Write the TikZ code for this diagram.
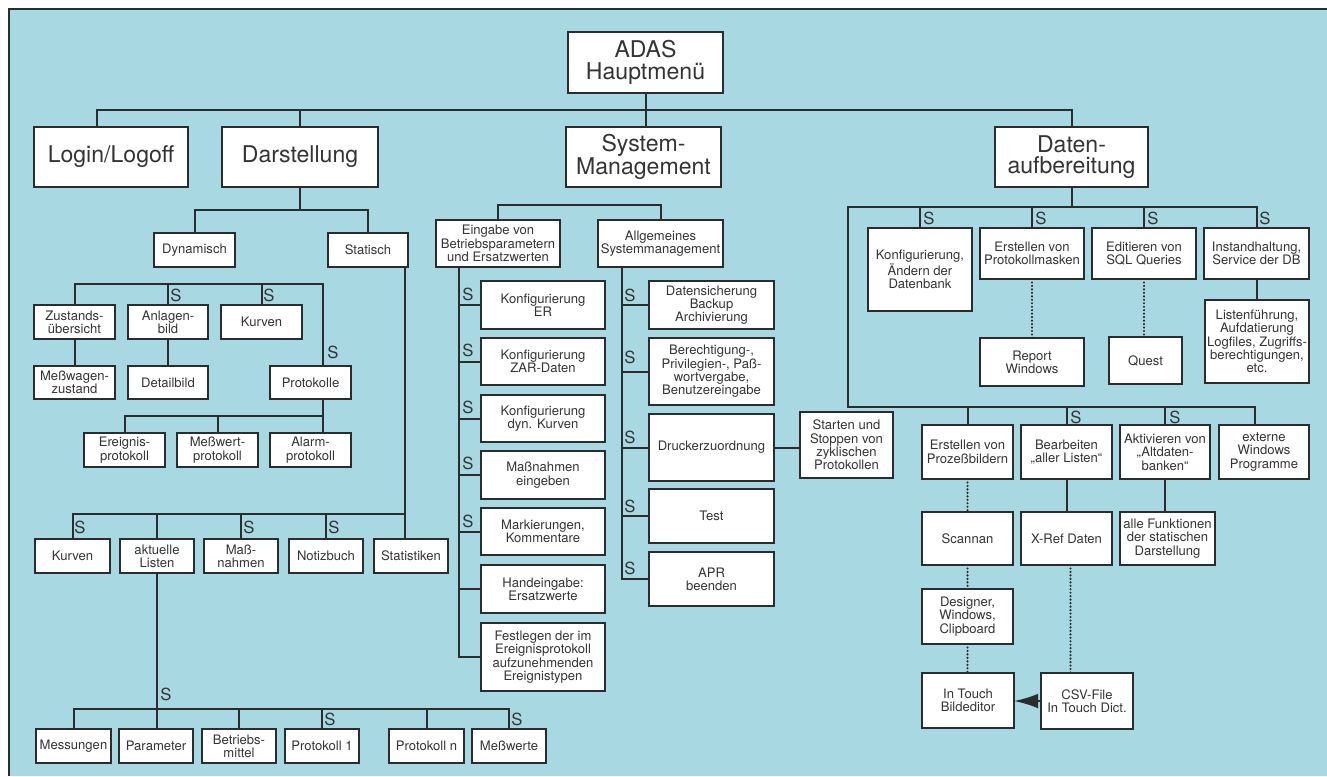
\documentclass[tikz,border=0pt]{standalone}
\usepackage{fontspec}
\setmainfont{TeX Gyre Heros}
\usetikzlibrary{arrows.meta,calc}
\definecolor{panel}{RGB}{168,216,226}
\definecolor{ink}{RGB}{42,44,46}
\definecolor{txt}{RGB}{52,52,54}

\tikzset{
  box/.style={draw=ink, line width=1pt, fill=white, align=center, inner sep=0pt,
    outer sep=0pt, text=txt, font=\fontsize{9.8pt}{10pt}\selectfont},
  bigbox/.style={font=\fontsize{17.3pt}{16pt}\selectfont},
  wire/.style={draw=ink, line width=1.5pt},
  dots/.style={draw=ink, line width=1.8pt, line cap=round, dash pattern=on 0pt off 2.6pt},
  slab/.style={text=txt, inner sep=0pt, font=\fontsize{12.5pt}{12.5pt}\selectfont},
}

% box given by its corners in pixel units: [style]{name}{x1}{y1}{x2}{y2}{text}
\newcommand{\bx}[7][]{\node[box,#1,minimum width={(#5-#3)*0.75pt},minimum height={(#6-#4)*0.75pt}] (#2) at ({(#3+#5)/2},{(#4+#6)/2}) {#7};}

\begin{document}
\begin{tikzpicture}[x=0.75pt,y=-0.75pt]
\useasboundingbox (0,0) rectangle (1327,776);
\fill[white] (0,0) rectangle (1327,776);
\fill[panel] (9,9) rectangle (1327,776);
\draw[ink, line width=1.2pt] (9,776) -- (9,9) -- (1327,9);

% ---- top level
\bx[bigbox]{adas}{568}{32}{723}{93}{ADAS\\Hauptmenü}
\bx[bigbox]{login}{34}{127}{188}{187}{Login/Logoff}
\bx[bigbox]{darst}{222}{127}{378}{187}{Darstellung}
\bx[bigbox]{sysm}{566}{127}{721}{187}{System-\\Management}
\bx[bigbox]{dat}{995}{127}{1148}{187}{Daten-\\aufbereitung}

% ---- Darstellung
\bx{dyn}{154}{233}{235}{267}{Dynamisch}
\bx{stat}{328}{233}{408}{267}{Statisch}
\bx{zust}{34}{305}{115}{339}{Zustands-\\übersicht}
\bx{anl}{128}{305}{208}{339}{Anlagen-\\bild}
\bx{kurv1}{221}{305}{302}{339}{Kurven}
\bx{messw}{34}{366}{115}{399}{Meßwagen-\\zustand}
\bx{detail}{128}{366}{208}{399}{Detailbild}
\bx{prot}{270}{366}{351}{399}{Protokolle}
\bx{ereig}{84}{433}{165}{467}{Ereignis-\\protokoll}
\bx{mwprot}{177}{433}{258}{467}{Meßwert-\\protokoll}
\bx{alarm}{270}{433}{351}{467}{Alarm-\\protokoll}
\bx{kurv2}{35}{539}{110}{573}{Kurven}
\bx{akt}{120}{539}{194}{573}{aktuelle\\Listen}
\bx{massn}{204}{539}{278}{573}{Maß-\\nahmen}
\bx{notiz}{289}{539}{363}{573}{Notizbuch}
\bx{statist}{374}{539}{448}{573}{Statistiken}
\bx{messg}{36}{729}{111}{763}{Messungen}
\bx{param}{119}{729}{193}{763}{Parameter}
\bx{betr}{202}{729}{276}{763}{Betriebs-\\mittel}
\bx{prot1}{285}{729}{359}{763}{Protokoll 1}
\bx{protn}{389}{729}{464}{763}{Protokoll n}
\bx{mwerte}{472}{729}{546}{763}{Meßwerte}

% ---- System-Management
\bx{eing}{436}{220}{560}{267}{Eingabe von\\Betriebsparametern\\und Ersatzwerten}
\bx{allg}{598}{220}{723}{267}{Allgemeines\\Systemmanagement}
\bx{k1}{481}{281}{605}{329}{Konfigurierung\\ER}
\bx{k2}{481}{338}{605}{385}{Konfigurierung\\ZAR-Daten}
\bx{k3}{481}{395}{605}{442}{Konfigurierung\\dyn. Kurven}
\bx{k4}{481}{451}{605}{499}{Maßnahmen\\eingeben}
\bx{k5}{481}{508}{605}{555}{Markierungen,\\Kommentare}
\bx{k6}{481}{565}{605}{613}{Handeingabe:\\Ersatzwerte}
\bx{k7}{481}{623}{605}{691}{Festlegen der im\\Ereignisprotokoll\\aufzunehmenden\\Ereignistypen}
\bx{d1}{649}{281}{774}{329}{Datensicherung\\Backup\\Archivierung}
\bx{d2}{649}{338}{774}{405}{Berechtigung-,\\Privilegien-, Paß-\\wortvergabe,\\Benutzereingabe}
\bx{d3}{649}{414}{774}{481}{Druckerzuordnung}
\bx{d4}{649}{489}{774}{543}{Test}
\bx{d5}{649}{552}{774}{606}{APR\\beenden}
\bx{start}{800}{412}{893}{478}{Starten und\\Stoppen von\\zyklischen\\Protokollen}

% ---- Datenaufbereitung
\bx{e1}{868}{228}{972}{311}{Konfigurierung,\\Ändern der\\Datenbank}
\bx{e2}{980}{228}{1084}{279}{Erstellen von\\Protokollmasken}
\bx{e3}{1092}{228}{1196}{279}{Editieren von\\SQL Queries}
\bx{e4}{1204}{228}{1309}{279}{Instandhaltung,\\Service der DB}
\bx{rep}{980}{338}{1084}{386}{Report\\Windows}
\bx{quest}{1109}{337}{1182}{384}{Quest}
\bx{listf}{1205}{300}{1309}{383}{Listenführung,\\Aufdatierung\\Logfiles, Zugriffs-\\berechtigungen,\\etc.}
\bx{f1}{922}{425}{1013}{479}{Erstellen von\\Prozeßbildern}
\bx{f2}{1021}{425}{1112}{479}{Bearbeiten\\„aller Listen“}
\bx{f3}{1120}{425}{1210}{479}{Aktivieren von\\„Altdaten-\\banken“}
\bx{f4}{1219}{425}{1309}{479}{externe\\Windows\\Programme}
\bx{g1}{922}{512}{1013}{565}{Scannan}
\bx{g2}{1021}{512}{1112}{565}{X-Ref Daten}
\bx{g3}{1120}{512}{1215}{565}{alle Funktionen\\der statischen\\Darstellung}
\bx{h1}{922}{589}{1013}{644}{Designer,\\Windows,\\Clipboard}
\bx{i1}{922}{673}{1014}{728}{In Touch\\Bildeditor}
\bx{csv}{1041}{673}{1133}{729}{CSV-File\\In Touch Dict.}

% ---- bus levels and spines
\coordinate (b0) at (0,110);
\coordinate (b1) at (0,210);
\coordinate (b2) at (0,284);
\coordinate (b3) at (0,416);
\coordinate (b4) at (0,514);
\coordinate (b5) at (0,709);
\coordinate (b6) at (0,205);
\coordinate (b7) at (0,207);
\coordinate (b8) at (0,407);
\coordinate (jl) at (97,0);
\coordinate (jd) at (323,0);
\coordinate (js) at (405,0);
\coordinate (sp1) at (459,0);
\coordinate (sp2) at (622,0);
\coordinate (sp3) at (848,0);
\coordinate (jx) at (1255,0);

% main level
\draw[wire] (jl |- login.north) |- (b0 -| dat.north) -- (dat.north);
\draw[wire] (darst.north) -- (darst.north |- b0);
\draw[wire] (adas.south) -- (adas.south |- sysm.north);

% Darstellung branch
\draw[wire] (darst.south) -- (darst.south |- b1);
\draw[wire] (dyn.north) |- (b1 -| stat.north) -- (stat.north);
\draw[wire] (zust.north) |- (b2 -| jd) -- (jd |- prot.north);
\draw[wire] (anl.north) -- (anl.north |- b2);
\draw[wire] (kurv1.north) -- (kurv1.north |- b2);
\draw[wire] (zust.south) -- (messw.north);
\draw[wire] (anl.south) -- (detail.north);
\draw[wire] (jd |- prot.south) -- (jd |- alarm.north);
\draw[wire] (ereig.north) |- (b3 -| jd);
\draw[wire] (mwprot.north) -- (mwprot.north |- b3);
\draw[wire] (js |- stat.south) -- (js |- statist.north);
\draw[wire] (js |- b4) -| (kurv2.north);
\draw[wire] (akt.north) -- (akt.north |- b4);
\draw[wire] (massn.north) -- (massn.north |- b4);
\draw[wire] (notiz.north) -- (notiz.north |- b4);
\draw[wire] (akt.south) -- (akt.south |- param.north);
\draw[wire] (messg.north) |- (b5 -| mwerte.north) -- (mwerte.north);
\draw[wire] (betr.north) -- (betr.north |- b5);
\draw[wire] (prot1.north) -- (prot1.north |- b5);
\draw[wire] (protn.north) -- (protn.north |- b5);

% System-Management branch
\draw[wire] (eing.north) |- (b6 -| allg.north) -- (allg.north);
\draw[wire] (sp1 |- eing.south) |- (k7.west);
\foreach \k in {k1,k2,k3,k4,k5,k6} \draw[wire] (\k.west) -- (\k.west -| sp1);
\draw[wire] (sp2 |- allg.south) |- (d5.west);
\foreach \k in {d1,d2,d3,d4} \draw[wire] (\k.west) -- (\k.west -| sp2);
\draw[wire] (d3.east) -- (d3.east -| start.west);

% Datenaufbereitung branch
\draw[wire] (dat.south) -- (dat.south |- b7);
\draw[wire] (e4.north) |- (b7 -| sp3) |- (b8 -| jx) -- (jx |- f4.north);
\draw[wire] (e1.north) -- (e1.north |- b7);
\draw[wire] (e2.north) -- (e2.north |- b7);
\draw[wire] (e3.north) -- (e3.north |- b7);
\draw[dots] (e2.south) -- (rep.north);
\draw[dots] (e3.south) -- (e3.south |- quest.north);
\draw[wire] (e4.south) -- (e4.south |- listf.north);
\draw[wire] (f1.north) -- (f1.north |- b8);
\draw[wire] (f2.north) -- (f2.north |- b8);
\draw[wire] (f3.north) -- (f3.north |- b8);
\draw[dots] (f1.south) -- (g1.north);
\draw[wire] (f2.south) -- (g2.north);
\draw[wire] (f3.south) -- (f3.south |- g3.north);
\draw[dots] (g1.south) -- (h1.north);
\draw[dots] (h1.south) -- (h1.south |- i1.north);
\draw[dots] ([xshift=3pt]g2.south) -- ([xshift=3pt]g2.south |- csv.north);
\draw[wire, -{Latex[length=18pt,width=11pt]}] (csv.west) -- (csv.west -| i1.east);

% ---- S marks
\node[slab] (sa1) at (176,295) {S};
\node[slab] (sa2) at (269,295) {S};
\node[slab] (sa3) at (333,352) {S};
\node[slab] (sb1) at (80,527) {S};
\node[slab] (sb2) at (249,527) {S};
\node[slab] (sb3) at (334,527) {S};
\node[slab] (sb4) at (166,694) {S};
\node[slab] (sb5) at (330,719) {S};
\node[slab] (sb6) at (517,719) {S};
\node[slab] (sc1) at (468,294) {S};
\node[slab] (sc2) at (468,350) {S};
\node[slab] (sc3) at (468,407) {S};
\node[slab] (sc4) at (468,463) {S};
\node[slab] (sc5) at (468,521) {S};
\node[slab] (sd1) at (630,295) {S};
\node[slab] (sd2) at (630,357) {S};
\node[slab] (sd3) at (630,437) {S};
\node[slab] (sd4) at (630,506) {S};
\node[slab] (sd5) at (630,568) {S};
\node[slab] (se1) at (929,218) {S};
\node[slab] (se2) at (1041,218) {S};
\node[slab] (se3) at (1153,218) {S};
\node[slab] (se4) at (1265,218) {S};
\node[slab] (sf2) at (1076,417) {S};
\node[slab] (sf3) at (1175,417) {S};
\end{tikzpicture}
\end{document}
